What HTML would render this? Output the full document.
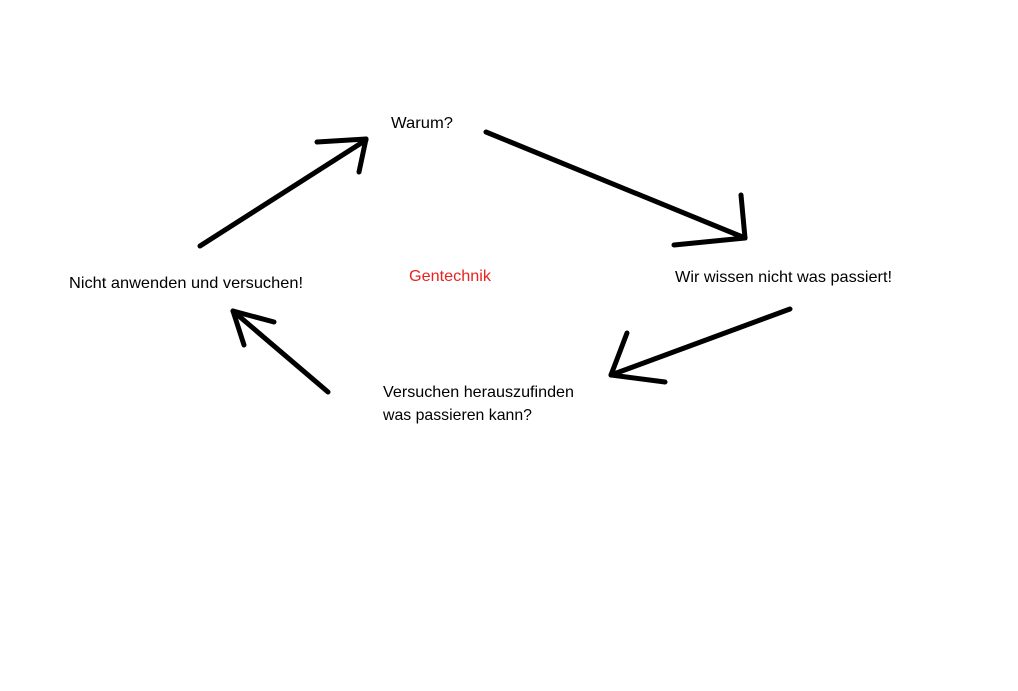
<!DOCTYPE html>
<html><head><meta charset="utf-8"><style>html,body{margin:0;padding:0;background:#fff;}svg{display:block}</style></head>
<body>
<svg width="1018" height="691" viewBox="0 0 1018 691" xmlns="http://www.w3.org/2000/svg">
<g stroke="#000" stroke-width="5" stroke-linecap="round" fill="none">
<line x1="200" y1="246" x2="366" y2="140"/>
<line x1="317" y1="142" x2="366" y2="139"/>
<line x1="366" y1="139" x2="359" y2="172"/>
<line x1="486" y1="132" x2="745" y2="238"/>
<line x1="741" y1="195" x2="745" y2="238"/>
<line x1="674" y1="245" x2="745" y2="238"/>
<line x1="790" y1="309" x2="611" y2="375"/>
<line x1="627" y1="333" x2="611" y2="375"/>
<line x1="611" y1="375" x2="665" y2="382"/>
<line x1="328" y1="392" x2="233" y2="311"/>
<line x1="233" y1="311" x2="274" y2="322"/>
<line x1="233" y1="311" x2="244" y2="345"/>
</g>
<g font-family="Liberation Sans, DejaVu Sans, sans-serif" font-size="16" fill="#000">
<text x="391" y="128" textLength="62" lengthAdjust="spacingAndGlyphs">Warum?</text>
<text x="69" y="288" textLength="234" lengthAdjust="spacingAndGlyphs">Nicht anwenden und versuchen!</text>
<text x="409" y="281" fill="#e8231f" textLength="82" lengthAdjust="spacingAndGlyphs">Gentechnik</text>
<text x="675" y="282" textLength="217" lengthAdjust="spacingAndGlyphs">Wir wissen nicht was passiert!</text>
<text x="383" y="397" textLength="191" lengthAdjust="spacingAndGlyphs">Versuchen herauszufinden</text>
<text x="383" y="420" textLength="149" lengthAdjust="spacingAndGlyphs">was passieren kann?</text>
</g>
</svg>
</body></html>
